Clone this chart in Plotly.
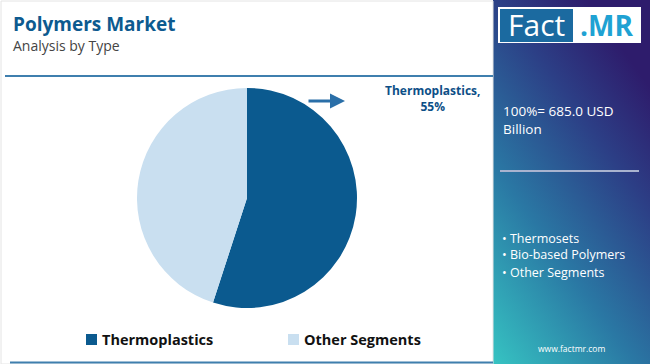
import base64
import plotly.graph_objects as go

# ---- data ----
labels = ["Thermoplastics", "Other Segments"]
values = [55, 45]
colors = ["#0b5a8f", "#c9dff0"]
title = "Polymers Market"
subtitle = "Analysis by Type"
total_text = "100%= 685.0 USD<br>Billion"
other_items = ["Thermosets", "Bio-based Polymers", "Other Segments"]
callout_label = "Thermoplastics,"
callout_value = "55%"

W, H = 650, 364
FONT = "Open Sans"


def py(y):
    return (H - y) / H


fig = go.Figure()
fig.add_trace(go.Pie(
    labels=labels, values=values, sort=False, direction="clockwise", rotation=0,
    marker=dict(colors=colors, line=dict(width=0)),
    textinfo="none", hoverinfo="label+percent", showlegend=False,
    domain=dict(x=[137 / W, 357 / W], y=[py(308), py(88)]),
))

# gradient side panel as svg image
svg = '''<svg xmlns="http://www.w3.org/2000/svg" width="157" height="364">
<defs><linearGradient id="g" x1="0" y1="1" x2="0.6" y2="0">
<stop offset="0" stop-color="#36c3c2"/>
<stop offset="0.4" stop-color="#2a78a4"/>
<stop offset="0.75" stop-color="#2c3f86"/>
<stop offset="1" stop-color="#2e1c6c"/>
</linearGradient></defs>
<rect width="157" height="364" fill="url(#g)"/></svg>'''
uri = "data:image/svg+xml;base64," + base64.b64encode(svg.encode()).decode()

shapes = [
    dict(type="rect", x0=1 / W, x1=493 / W, y0=0, y1=py(1),
         line=dict(color="#e4e4e4", width=1), fillcolor="white", layer="below"),
    dict(type="line", x0=5 / W, x1=493 / W, y0=py(76), y1=py(76),
         line=dict(color="#3f7fae", width=2)),
    dict(type="line", x0=10 / W, x1=493 / W, y0=py(362.5), y1=py(362.5),
         line=dict(color="#3f7fae", width=2)),
    # logo
    dict(type="rect", x0=498 / W, x1=641 / W, y0=py(43), y1=py(7),
         fillcolor="white", line=dict(width=0)),
    dict(type="rect", x0=500 / W, x1=573 / W, y0=py(42), y1=py(9),
         fillcolor="#1b6aa0", line=dict(width=0)),
    # separator
    dict(type="line", x0=500 / W, x1=639 / W, y0=py(171), y1=py(171),
         line=dict(color="#a9b3cf", width=2)),
]

ann = [
    dict(text=f"<b>{title}</b>", x=11 / W, y=py(24), xanchor="left", yanchor="middle",
         font=dict(size=19, color="#0d5a8f", family=FONT)),
    dict(text=subtitle, x=11 / W, y=py(45), xanchor="left", yanchor="middle",
         font=dict(size=14, color="#444444", family=FONT)),
    dict(text=f"<b>{callout_label}<br>{callout_value}</b>", x=432 / W, y=py(98),
         xanchor="center", yanchor="middle", align="center",
         font=dict(size=12, color="#0d4f87", family=FONT)),
    dict(text="", x=345 / W, y=py(101), ax=-38, ay=0,
         showarrow=True, arrowhead=2, arrowsize=1,
         arrowwidth=3, arrowcolor="#2a6fa8"),
    dict(text="Fact", x=536 / W, y=py(25), xanchor="center", yanchor="middle",
         font=dict(size=30, color="white", family=FONT)),
    dict(text="<b>.MR</b>", x=606 / W, y=py(25), xanchor="center", yanchor="middle",
         font=dict(size=28, color="#1fa2d3", family=FONT)),
    dict(text=total_text, x=501 / W, y=py(120), xanchor="left", yanchor="middle",
         align="left", font=dict(size=13.5, color="white", family=FONT)),
    dict(text="www.factmr.com", x=571 / W, y=py(348), xanchor="center", yanchor="middle",
         font=dict(size=8.5, color="white", family=FONT)),
]
for i, s in enumerate(other_items):
    ann.append(dict(text="• " + s, x=500 / W, y=py(238 + 17 * i), xanchor="left",
                    yanchor="middle", font=dict(size=12.5, color="white", family=FONT)))

# manual legend
leg_x = [86, 288]
for lab, col, lx in zip(labels, colors, leg_x):
    shapes.append(dict(type="rect", x0=lx / W, x1=(lx + 11) / W, y0=py(345), y1=py(334),
                       fillcolor=col, line=dict(width=0)))
    ann.append(dict(text=f"<b>{lab}</b>", x=(lx + 14) / W, y=py(339.5), xanchor="left",
                    yanchor="middle", font=dict(size=14.5, color="#111111", family=FONT)))

for s in shapes:
    s.setdefault("xref", "paper")
    s.setdefault("yref", "paper")
for a in ann:
    a.setdefault("xref", "paper")
    a.setdefault("yref", "paper")
    a.setdefault("showarrow", False)

fig.update_layout(
    width=W, height=H, margin=dict(l=0, r=0, t=0, b=0),
    paper_bgcolor="white", plot_bgcolor="white",
    shapes=shapes, annotations=ann, showlegend=False,
    images=[dict(source=uri, xref="paper", yref="paper", x=493 / W, y=1,
                 sizex=157 / W, sizey=1, xanchor="left", yanchor="top",
                 sizing="stretch", layer="below")],
)

fig.write_html("out.html", config={"displayModeBar": False},
               post_script="document.body.style.margin='0';")
